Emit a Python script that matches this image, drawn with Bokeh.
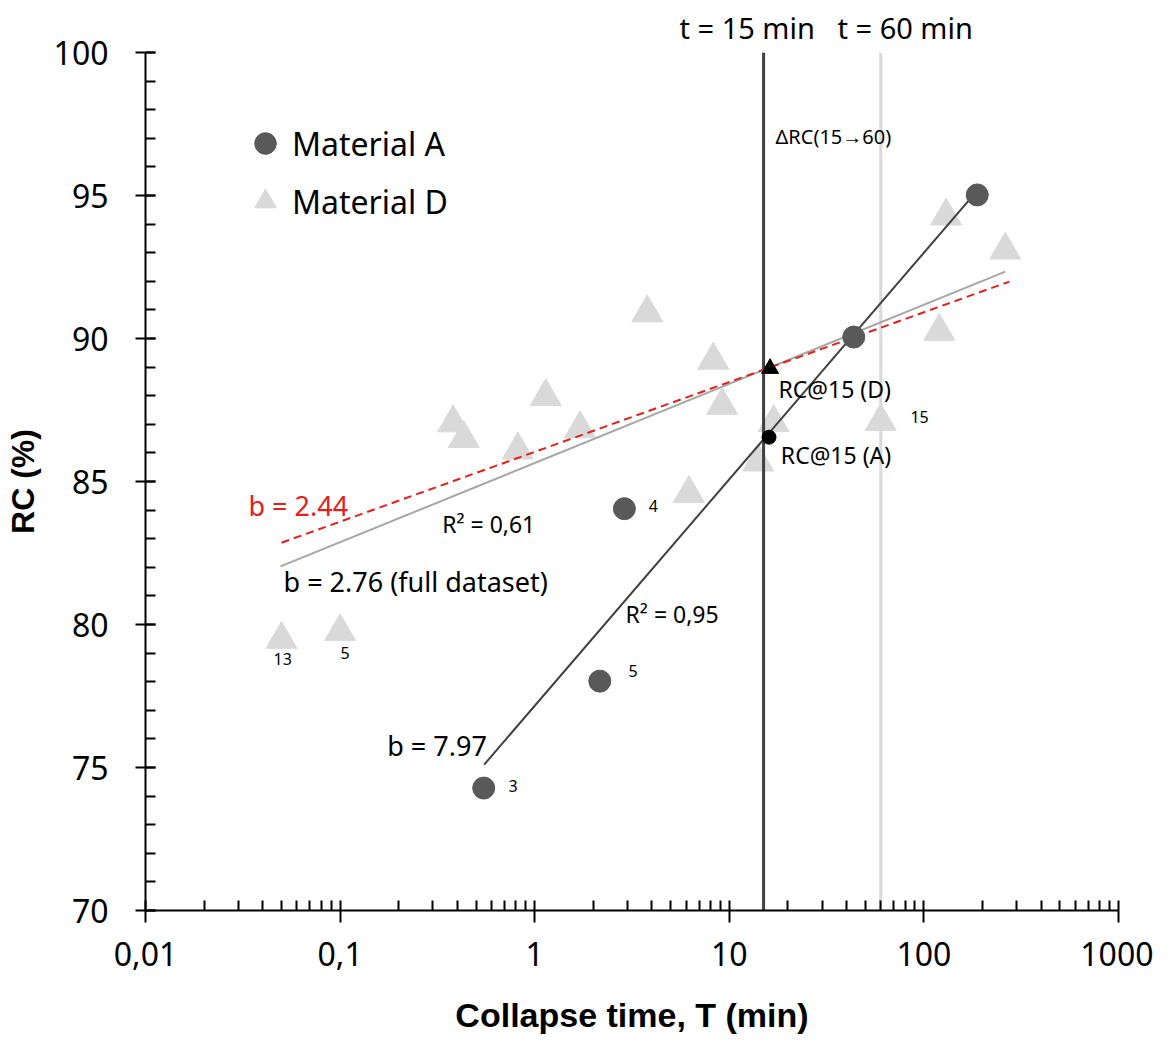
from bokeh.plotting import figure
from bokeh.models import (Range1d, FixedTicker, CustomJSTickFormatter, Legend,
                          LegendItem)
from bokeh.core.properties import value
from bokeh.embed import file_html
from bokeh.resources import INLINE

# ---------------- data ----------------
matA_T = [188, 43.6, 2.89, 2.16, 0.547]
matA_RC = [95.02, 90.05, 84.05, 78.02, 74.28]

matD_T = [0.05, 0.1, 0.381, 0.432, 0.819, 1.14, 1.71, 3.79, 6.2, 8.27, 9.19,
          14.07, 16.9, 60, 120, 130, 262]
matD_RC = [79.48, 79.75, 87.05, 86.5, 86.1, 87.97, 86.85, 90.9, 84.58, 89.24,
           87.66, 85.68, 87.06, 87.1, 90.25, 94.28, 93.09]

rc15_A_T, rc15_A_RC = [16.0], [86.55]
rc15_D_T, rc15_D_RC = [16.2], [88.95]

fitA_T, fitA_RC = [0.55, 188], [75.1, 95.17]          # b = 7.97
fitAll_T, fitAll_RC = [0.0494, 262], [82.03, 92.34]   # b = 2.76 full dataset
fitD_T, fitD_RC = [0.05, 275], [82.86, 91.99]         # b = 2.44

vline_T = [15, 60]
vline_colors = ["#404040", "#d9d9d9"]

x_tick_values = [0.01, 0.1, 1, 10, 100, 1000]
y_tick_values = [70, 75, 80, 85, 90, 95, 100]
y_min, y_max = 70, 100

# annotation texts (positions = visual centre of text, left aligned)
ann_delta_text = ["ΔRC(15→60)"]
ann_delta_x = [17.28]
ann_delta_y = [97.08]

ann_mid_text = ["RC@15 (D)", "RC@15 (A)", "R² = 0,61", "R² = 0,95"]
ann_mid_x = [17.9, 18.4, 0.3346, 2.93]
ann_mid_y = [88.25, 85.94, 83.50, 80.35]

ann_big_text = ["b = 2.76 (full dataset)", "b = 7.97"]
ann_big_x = [0.0512, 0.1746]
ann_big_y = [81.50, 75.77]

ann_red_text = ["b = 2.44"]
ann_red_x = [0.0338]
ann_red_y = [84.16]

ann_small_text = ["3", "5", "4", "13", "5", "15"]
ann_small_x = [0.733, 3.03, 3.85, 0.0455, 0.1005, 85.3]
ann_small_y = [74.34, 78.36, 84.13, 78.78, 79.02, 87.25]

top_text = "t = 15 min\u00a0\u00a0\u00a0t = 60 min"

# ---------------- figure ----------------
FONT = "Noto Sans"
p = figure(frame_width=973, frame_height=858, x_axis_type="log",
           x_range=Range1d(0.01, 1000), y_range=Range1d(y_min, y_max),
           output_backend="svg", toolbar_location=None,
           min_border_left=145, min_border_right=35,
           min_border_top=52, min_border_bottom=124)
p.xgrid.visible = False
p.ygrid.visible = False
p.outline_line_color = None
p.background_fill_color = "white"

# top title carrying the two time markers
p.title.text = top_text
p.title.align = "left"
p.title.offset = 534
p.title.standoff = 11
p.title.text_font = FONT
p.title.text_font_size = "29px"
p.title.text_font_style = "normal"
p.title.text_color = "black"

# axes
p.xaxis.ticker = FixedTicker(
    ticks=x_tick_values,
    minor_ticks=[m * d for d in x_tick_values[:-1] for m in range(2, 10)])
p.xaxis.formatter = CustomJSTickFormatter(code="return String(tick).replace('.', ',');")
p.yaxis.ticker = FixedTicker(ticks=y_tick_values,
                             minor_ticks=list(range(y_min, y_max + 1)))

for ax in (p.xaxis[0], p.yaxis[0]):
    ax.axis_line_color = "black"
    ax.axis_line_width = 2
    ax.major_tick_line_color = "black"
    ax.major_tick_line_width = 2
    ax.minor_tick_line_color = "black"
    ax.minor_tick_line_width = 2
    ax.minor_tick_in = 10
    ax.minor_tick_out = 0
    ax.major_tick_in = 10
    ax.major_label_text_font = FONT
    ax.major_label_text_font_size = "32px"
    ax.major_label_text_color = "black"
    ax.axis_label_text_font = "Liberation Sans"
    ax.axis_label_text_font_style = "bold"
    ax.axis_label_text_color = "black"

p.xaxis.axis_label_text_font_size = "34px"
p.yaxis.axis_label_text_font_size = "32px"
p.xaxis.major_tick_out = 12
p.yaxis.major_tick_out = 10
p.xaxis.major_label_standoff = 19
p.yaxis.major_label_standoff = 27
p.xaxis.axis_label = "Collapse time, T (min)"
p.yaxis.axis_label = "RC (%)"
p.xaxis.axis_label_standoff = 27
p.yaxis.axis_label_standoff = 10

# glyphs
rD = p.scatter(matD_T, matD_RC, marker="triangle", size=31,
               fill_color="#d9d9d9", line_color="#d9d9d9")

p.segment(x0=vline_T, y0=[y_min] * len(vline_T), x1=vline_T,
          y1=[y_max] * len(vline_T), line_color=vline_colors, line_width=3)

p.line(fitAll_T, fitAll_RC, line_color="#a6a6a6", line_width=2)
p.line(fitD_T, fitD_RC, line_color="#e3211c", line_width=2, line_dash="8 5")
p.line(fitA_T, fitA_RC, line_color="#404040", line_width=2)

rA = p.scatter(matA_T, matA_RC, marker="circle", size=22,
               fill_color="#595959", line_color="#595959")

p.scatter(rc15_A_T, rc15_A_RC, marker="circle", size=14, color="black")
p.scatter(rc15_D_T, rc15_D_RC, marker="triangle", size=17, color="black")

# texts
p.text(ann_delta_x, ann_delta_y, text=ann_delta_text, text_font=value(FONT),
       text_font_size=value("20px"), text_color="black",
       text_baseline="middle", text_align="left")
p.text(ann_mid_x, ann_mid_y, text=ann_mid_text, text_font=value(FONT),
       text_font_size=value("23px"), text_color="black",
       text_baseline="middle", text_align="left")
p.text(ann_big_x, ann_big_y, text=ann_big_text, text_font=value(FONT),
       text_font_size=value("27px"), text_color="black",
       text_baseline="middle", text_align="left")
p.text(ann_red_x, ann_red_y, text=ann_red_text, text_font=value(FONT),
       text_font_size=value("27px"), text_color="#e3211c",
       text_baseline="middle", text_align="left")
p.text(ann_small_x, ann_small_y, text=ann_small_text, text_font=value(FONT),
       text_font_size=value("16px"), text_color="black",
       text_baseline="middle", text_align="left")

legend = Legend(items=[LegendItem(label="Material A", renderers=[rA]),
                       LegendItem(label="Material D", renderers=[rD])],
                location=(93, 680), glyph_width=54, glyph_height=58,
                label_standoff=0, padding=0, margin=0, spacing=0,
                border_line_alpha=0, background_fill_alpha=0,
                label_text_font=FONT, label_text_font_size="32px",
                label_text_color="black", label_height=58)
p.add_layout(legend)

open("out.html", "w").write(file_html(p, INLINE))
